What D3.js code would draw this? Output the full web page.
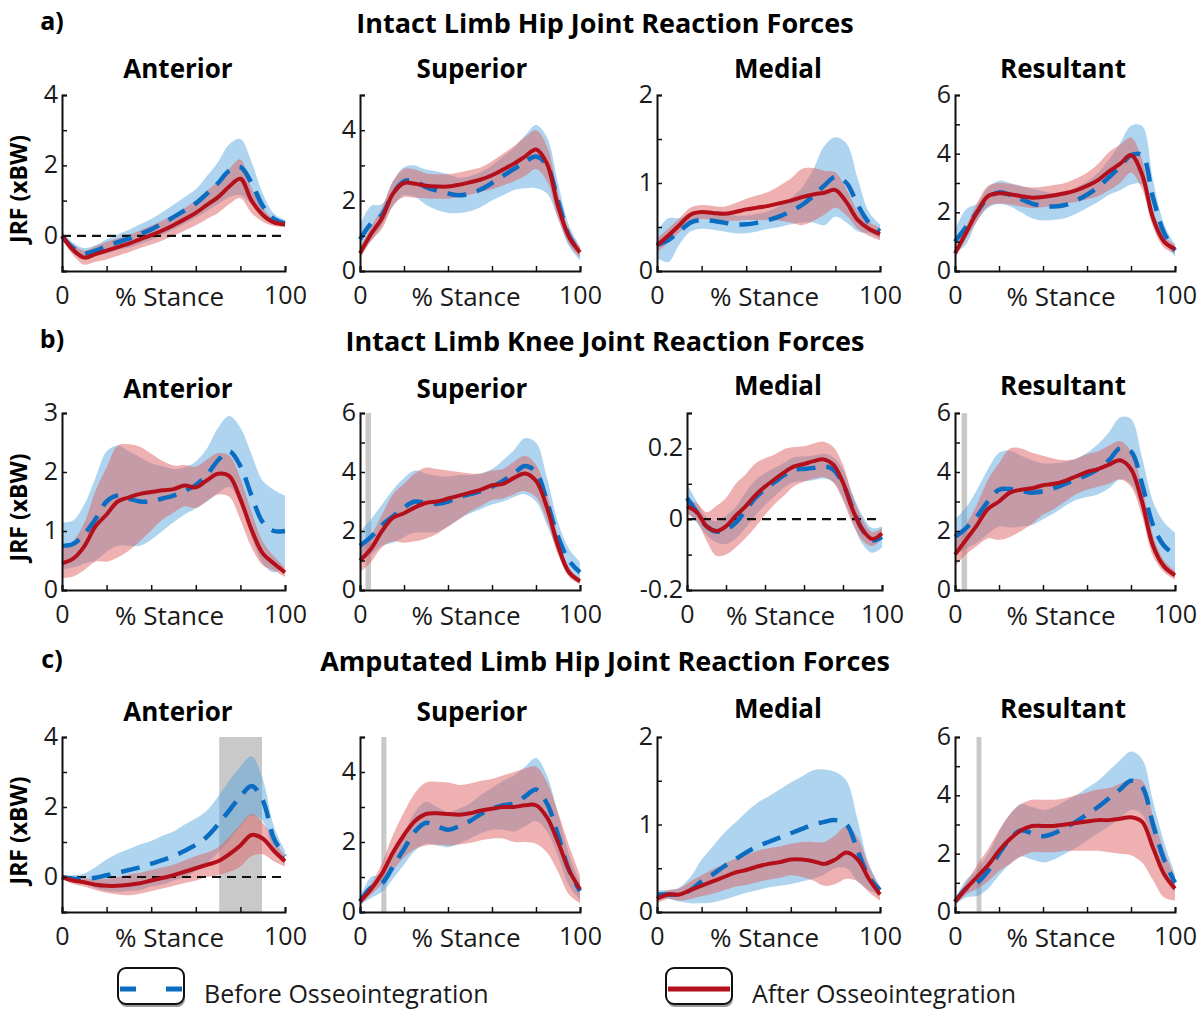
<!DOCTYPE html>
<html>
<head>
<meta charset="utf-8">
<script src="https://cdn.jsdelivr.net/npm/d3@7"></script>
<style>
  body { margin: 0; background: #fff; }
  svg { font-family: "Open Sans", sans-serif; }
</style>
</head>
<body>
<svg width="1200" height="1010"></svg>
<script>
// % stance sample points
const stance = d3.range(0, 101, 5);

// ---- a) intact limb hip ----
const hipAntBefore   = [0, -0.35, -0.5, -0.42, -0.3, -0.18, -0.08, 0.05, 0.18, 0.35, 0.53, 0.72, 0.92, 1.2, 1.5, 1.85, 1.95, 1.5, 0.85, 0.48, 0.35];
const hipAntBeforeSd = [0.1, 0.15, 0.15, 0.15, 0.2, 0.22, 0.25, 0.28, 0.3, 0.32, 0.35, 0.38, 0.4, 0.5, 0.6, 0.75, 0.8, 0.6, 0.35, 0.15, 0.1];
const hipAntAfter    = [0, -0.4, -0.62, -0.52, -0.42, -0.32, -0.22, -0.1, 0.02, 0.15, 0.3, 0.47, 0.65, 0.88, 1.1, 1.4, 1.62, 1.0, 0.6, 0.38, 0.33];
const hipAntAfterSd  = [0.1, 0.15, 0.2, 0.22, 0.25, 0.25, 0.25, 0.25, 0.27, 0.28, 0.3, 0.32, 0.35, 0.4, 0.45, 0.5, 0.55, 0.35, 0.2, 0.1, 0.08];

const hipSupBefore   = [0.9, 1.35, 1.6, 2.2, 2.55, 2.55, 2.38, 2.28, 2.2, 2.15, 2.2, 2.32, 2.5, 2.7, 2.9, 3.1, 3.25, 3.0, 2.0, 1.0, 0.5];
const hipSupBeforeSd = [0.4, 0.5, 0.3, 0.35, 0.4, 0.45, 0.5, 0.55, 0.55, 0.5, 0.5, 0.5, 0.5, 0.55, 0.6, 0.75, 0.9, 0.8, 0.5, 0.3, 0.2];
const hipSupAfter    = [0.5, 1.05, 1.5, 2.2, 2.5, 2.48, 2.42, 2.4, 2.4, 2.45, 2.52, 2.6, 2.72, 2.88, 3.05, 3.25, 3.45, 3.05, 1.85, 0.97, 0.53];
const hipSupAfterSd  = [0.15, 0.2, 0.3, 0.35, 0.4, 0.4, 0.35, 0.35, 0.35, 0.35, 0.35, 0.35, 0.4, 0.45, 0.5, 0.55, 0.55, 0.5, 0.35, 0.2, 0.15];

const hipMedBefore   = [0.3, 0.35, 0.45, 0.55, 0.58, 0.57, 0.55, 0.53, 0.53, 0.55, 0.58, 0.62, 0.68, 0.75, 0.85, 0.97, 1.07, 1.0, 0.75, 0.55, 0.45];
const hipMedBeforeSd = [0.15, 0.25, 0.15, 0.1, 0.1, 0.1, 0.1, 0.1, 0.1, 0.1, 0.1, 0.12, 0.15, 0.2, 0.3, 0.45, 0.45, 0.45, 0.3, 0.12, 0.08];
const hipMedAfter    = [0.29, 0.4, 0.52, 0.64, 0.67, 0.66, 0.65, 0.67, 0.7, 0.72, 0.74, 0.77, 0.8, 0.84, 0.87, 0.89, 0.92, 0.78, 0.58, 0.48, 0.42];
const hipMedAfterSd  = [0.08, 0.08, 0.08, 0.08, 0.08, 0.08, 0.08, 0.1, 0.12, 0.14, 0.16, 0.2, 0.25, 0.32, 0.3, 0.25, 0.2, 0.15, 0.1, 0.08, 0.07];

const hipResBefore   = [1.0, 1.5, 2.0, 2.5, 2.68, 2.6, 2.45, 2.3, 2.22, 2.2, 2.25, 2.4, 2.6, 2.85, 3.2, 3.55, 3.95, 3.95, 2.5, 1.3, 0.7];
const hipResBeforeSd = [0.4, 0.6, 0.3, 0.35, 0.4, 0.4, 0.45, 0.5, 0.5, 0.45, 0.45, 0.45, 0.45, 0.5, 0.6, 0.8, 1.0, 1.0, 0.6, 0.3, 0.2];
const hipResAfter    = [0.6, 1.3, 2.0, 2.55, 2.65, 2.62, 2.55, 2.5, 2.52, 2.58, 2.65, 2.75, 2.9, 3.1, 3.4, 3.65, 3.95, 3.3, 1.8, 1.0, 0.75];
const hipResAfterSd  = [0.15, 0.2, 0.3, 0.35, 0.35, 0.35, 0.35, 0.35, 0.35, 0.35, 0.35, 0.4, 0.45, 0.55, 0.65, 0.65, 0.6, 0.5, 0.3, 0.2, 0.15];

// ---- b) intact limb knee ----
const kneeAntBefore   = [0.75, 0.78, 0.95, 1.2, 1.5, 1.6, 1.55, 1.5, 1.5, 1.55, 1.6, 1.68, 1.78, 1.95, 2.2, 2.35, 2.1, 1.6, 1.15, 1.0, 1.0];
const kneeAntBeforeSd = [0.4, 0.4, 0.5, 0.7, 0.85, 0.85, 0.8, 0.75, 0.65, 0.55, 0.45, 0.4, 0.4, 0.45, 0.55, 0.6, 0.65, 0.7, 0.7, 0.7, 0.6];
const kneeAntAfter    = [0.45, 0.53, 0.74, 1.08, 1.28, 1.5, 1.57, 1.63, 1.66, 1.69, 1.71, 1.77, 1.74, 1.86, 1.97, 1.93, 1.54, 1.02, 0.62, 0.45, 0.3];
const kneeAntAfterSd  = [0.25, 0.3, 0.4, 0.6, 0.8, 0.95, 0.9, 0.8, 0.65, 0.5, 0.4, 0.35, 0.35, 0.35, 0.35, 0.35, 0.35, 0.3, 0.2, 0.12, 0.08];

const kneeSupBefore   = [1.5, 1.8, 2.2, 2.5, 2.8, 3.0, 2.95, 2.92, 3.0, 3.15, 3.25, 3.35, 3.5, 3.7, 3.95, 4.2, 4.0, 3.0, 1.8, 1.0, 0.6];
const kneeSupBeforeSd = [0.5, 0.6, 0.7, 0.9, 1.0, 1.05, 1.0, 0.95, 0.85, 0.75, 0.65, 0.6, 0.6, 0.7, 0.8, 0.95, 1.0, 0.8, 0.5, 0.4, 0.35];
const kneeSupAfter    = [1.0, 1.4, 2.0, 2.45, 2.6, 2.8, 2.95, 3.0, 3.1, 3.2, 3.3, 3.4, 3.55, 3.6, 3.8, 3.95, 3.7, 2.8, 1.5, 0.6, 0.3];
const kneeSupAfterSd  = [0.4, 0.45, 0.55, 0.8, 1.0, 1.15, 1.2, 1.1, 0.95, 0.8, 0.65, 0.55, 0.5, 0.5, 0.55, 0.6, 0.55, 0.45, 0.3, 0.15, 0.1];

const kneeMedBefore   = [0.06, 0.02, -0.02, -0.035, -0.03, -0.01, 0.025, 0.06, 0.085, 0.105, 0.125, 0.14, 0.142, 0.145, 0.15, 0.14, 0.1, 0.03, -0.03, -0.06, -0.05];
const kneeMedBeforeSd = [0.04, 0.03, 0.025, 0.03, 0.04, 0.045, 0.05, 0.05, 0.045, 0.04, 0.035, 0.035, 0.035, 0.035, 0.035, 0.035, 0.04, 0.04, 0.04, 0.035, 0.03];
const kneeMedAfter    = [0.036, 0.02, -0.02, -0.033, -0.02, 0.01, 0.036, 0.067, 0.092, 0.113, 0.133, 0.149, 0.156, 0.164, 0.169, 0.154, 0.103, 0.026, -0.03, -0.056, -0.04];
const kneeMedAfterSd  = [0.02, 0.025, 0.04, 0.07, 0.08, 0.09, 0.09, 0.09, 0.08, 0.07, 0.065, 0.055, 0.05, 0.05, 0.05, 0.05, 0.05, 0.04, 0.03, 0.02, 0.015];

const kneeResBefore   = [1.8, 2.1, 2.5, 3.0, 3.4, 3.42, 3.35, 3.3, 3.35, 3.45, 3.6, 3.75, 3.9, 4.1, 4.4, 4.8, 4.7, 3.6, 2.2, 1.5, 1.2];
const kneeResBeforeSd = [0.6, 0.7, 0.9, 1.1, 1.25, 1.3, 1.2, 1.1, 0.95, 0.85, 0.75, 0.7, 0.75, 0.85, 0.95, 1.05, 1.1, 0.9, 0.8, 0.8, 0.75];
const kneeResAfter    = [1.2, 1.7, 2.2, 2.75, 3.0, 3.3, 3.4, 3.45, 3.55, 3.6, 3.7, 3.85, 4.0, 4.1, 4.25, 4.4, 4.1, 3.0, 1.5, 0.8, 0.5];
const kneeResAfterSd  = [0.4, 0.5, 0.7, 1.0, 1.3, 1.5, 1.4, 1.2, 1.0, 0.85, 0.7, 0.6, 0.6, 0.6, 0.65, 0.65, 0.6, 0.5, 0.35, 0.2, 0.15];

// ---- c) amputated limb hip ----
const ampAntBefore   = [0, -0.05, -0.05, -0.02, 0.05, 0.12, 0.2, 0.28, 0.38, 0.48, 0.6, 0.75, 0.92, 1.15, 1.5, 1.9, 2.3, 2.6, 2.2, 1.1, 0.6];
const ampAntBeforeSd = [0.05, 0.1, 0.15, 0.3, 0.45, 0.55, 0.6, 0.65, 0.65, 0.7, 0.7, 0.75, 0.75, 0.75, 0.8, 0.85, 0.85, 0.85, 0.6, 0.35, 0.15];
const ampAntAfter    = [0, -0.1, -0.15, -0.22, -0.25, -0.25, -0.22, -0.18, -0.1, -0.03, 0.05, 0.15, 0.25, 0.35, 0.45, 0.65, 0.9, 1.2, 1.1, 0.75, 0.45];
const ampAntAfterSd  = [0.05, 0.1, 0.12, 0.15, 0.2, 0.25, 0.3, 0.3, 0.3, 0.3, 0.3, 0.32, 0.35, 0.35, 0.4, 0.5, 0.6, 0.6, 0.45, 0.3, 0.15];

const ampSupBefore   = [0.3, 0.7, 0.82, 1.3, 1.8, 2.3, 2.55, 2.45, 2.35, 2.45, 2.6, 2.8, 2.95, 3.05, 3.1, 3.3, 3.5, 3.1, 2.2, 1.2, 0.6];
const ampSupBeforeSd = [0.1, 0.3, 0.25, 0.35, 0.45, 0.55, 0.6, 0.55, 0.5, 0.5, 0.5, 0.55, 0.6, 0.7, 0.8, 0.85, 0.9, 0.8, 0.6, 0.45, 0.25];
const ampSupAfter    = [0.3, 0.65, 1.1, 1.7, 2.2, 2.6, 2.8, 2.82, 2.8, 2.78, 2.82, 2.9, 2.95, 3.0, 3.0, 3.05, 3.05, 2.7, 2.0, 1.2, 0.65];
const ampSupAfterSd  = [0.1, 0.15, 0.3, 0.5, 0.65, 0.8, 0.9, 0.9, 0.9, 0.85, 0.85, 0.85, 0.85, 0.9, 1.0, 1.05, 1.1, 1.0, 0.85, 0.7, 0.4];

const ampMedBefore   = [0.2, 0.2, 0.2, 0.25, 0.35, 0.43, 0.52, 0.6, 0.68, 0.75, 0.8, 0.85, 0.9, 0.95, 1.0, 1.03, 1.05, 1.0, 0.7, 0.4, 0.25];
const ampMedBeforeSd = [0.05, 0.05, 0.08, 0.15, 0.25, 0.32, 0.38, 0.42, 0.46, 0.5, 0.52, 0.55, 0.58, 0.6, 0.62, 0.6, 0.55, 0.5, 0.35, 0.15, 0.05];
const ampMedAfter    = [0.15, 0.2, 0.2, 0.25, 0.3, 0.35, 0.4, 0.45, 0.48, 0.52, 0.55, 0.57, 0.6, 0.6, 0.58, 0.55, 0.6, 0.68, 0.6, 0.38, 0.2];
const ampMedAfterSd  = [0.05, 0.05, 0.07, 0.1, 0.12, 0.14, 0.15, 0.16, 0.17, 0.18, 0.18, 0.18, 0.18, 0.2, 0.22, 0.25, 0.28, 0.3, 0.25, 0.15, 0.07];

const ampResBefore   = [0.35, 0.8, 1.0, 1.4, 2.0, 2.5, 2.8, 2.7, 2.6, 2.7, 2.9, 3.1, 3.35, 3.6, 3.9, 4.2, 4.5, 4.3, 3.0, 1.8, 1.0];
const ampResBeforeSd = [0.1, 0.3, 0.45, 0.6, 0.75, 0.85, 0.9, 0.9, 0.9, 0.9, 0.9, 0.9, 0.9, 0.9, 0.95, 1.0, 1.0, 0.95, 0.8, 0.6, 0.3];
const ampResAfter    = [0.35, 0.8, 1.2, 1.6, 2.1, 2.5, 2.8, 2.95, 2.95, 2.95, 3.0, 3.05, 3.1, 3.15, 3.15, 3.2, 3.25, 3.1, 2.2, 1.3, 0.8];
const ampResAfterSd  = [0.1, 0.2, 0.4, 0.55, 0.7, 0.85, 0.9, 0.9, 0.9, 0.9, 0.9, 0.95, 1.0, 1.05, 1.1, 1.2, 1.3, 1.4, 1.1, 0.8, 0.4];

// significance windows (% stance)
const kneeSupSig = [2.5, 5];
const kneeResSig = [3, 5.5];
const ampAntSig = [70.5, 89.7];
const ampSupSig = [9.7, 12];
const ampResSig = [9.8, 12];

// text
const rowTags = ["a)", "b)", "c)"];
const rowTitles = ["Intact Limb Hip Joint Reaction Forces", "Intact Limb Knee Joint Reaction Forces", "Amputated Limb Hip Joint Reaction Forces"];
const colTitles = ["Anterior", "Superior", "Medial", "Resultant"];
const legendLabels = ["Before Osseointegration", "After Osseointegration"];
const xTickLabels = [0, 100];

const panels = [
  {row: 0, col: 0, dom: [-1, 4], yt: [-1, 0, 1, 2, 3, 4], yl: [0, 2, 4], b: hipAntBefore, bs: hipAntBeforeSd, a: hipAntAfter, as: hipAntAfterSd, zero: true},
  {row: 0, col: 1, dom: [0, 5], yt: [0, 1, 2, 3, 4, 5], yl: [0, 2, 4], b: hipSupBefore, bs: hipSupBeforeSd, a: hipSupAfter, as: hipSupAfterSd},
  {row: 0, col: 2, dom: [0, 2], yt: [0, 0.5, 1, 1.5, 2], yl: [0, 1, 2], b: hipMedBefore, bs: hipMedBeforeSd, a: hipMedAfter, as: hipMedAfterSd},
  {row: 0, col: 3, dom: [0, 6], yt: [0, 1, 2, 3, 4, 5, 6], yl: [0, 2, 4, 6], b: hipResBefore, bs: hipResBeforeSd, a: hipResAfter, as: hipResAfterSd},
  {row: 1, col: 0, dom: [0, 3], yt: [0, 1, 2, 3], yl: [0, 1, 2, 3], b: kneeAntBefore, bs: kneeAntBeforeSd, a: kneeAntAfter, as: kneeAntAfterSd},
  {row: 1, col: 1, dom: [0, 6], yt: [0, 1, 2, 3, 4, 5, 6], yl: [0, 2, 4, 6], b: kneeSupBefore, bs: kneeSupBeforeSd, a: kneeSupAfter, as: kneeSupAfterSd, sig: kneeSupSig},
  {row: 1, col: 2, dom: [-0.2, 0.3], yt: [-0.2, -0.1, 0, 0.1, 0.2, 0.3], yl: [-0.2, 0, 0.2], b: kneeMedBefore, bs: kneeMedBeforeSd, a: kneeMedAfter, as: kneeMedAfterSd, zero: true, xr: [687, 882]},
  {row: 1, col: 3, dom: [0, 6], yt: [0, 1, 2, 3, 4, 5, 6], yl: [0, 2, 4, 6], b: kneeResBefore, bs: kneeResBeforeSd, a: kneeResAfter, as: kneeResAfterSd, sig: kneeResSig},
  {row: 2, col: 0, dom: [-1, 4], yt: [-1, 0, 1, 2, 3, 4], yl: [0, 2, 4], b: ampAntBefore, bs: ampAntBeforeSd, a: ampAntAfter, as: ampAntAfterSd, zero: true, sig: ampAntSig},
  {row: 2, col: 1, dom: [0, 5], yt: [0, 1, 2, 3, 4, 5], yl: [0, 2, 4], b: ampSupBefore, bs: ampSupBeforeSd, a: ampSupAfter, as: ampSupAfterSd, sig: ampSupSig},
  {row: 2, col: 2, dom: [0, 2], yt: [0, 0.5, 1, 1.5, 2], yl: [0, 1, 2], b: ampMedBefore, bs: ampMedBeforeSd, a: ampMedAfter, as: ampMedAfterSd},
  {row: 2, col: 3, dom: [0, 6], yt: [0, 1, 2, 3, 4, 5, 6], yl: [0, 2, 4, 6], b: ampResBefore, bs: ampResBeforeSd, a: ampResAfter, as: ampResAfterSd, sig: ampResSig}
];

// layout
const rowTop = [95, 413, 737], rowBottom = [271, 590, 912];
const colX = [[62, 285], [360, 580], [657, 880], [955, 1175]];
const colTitleX = [178, 472, 778, 1063];
const rowTitleY = [22, 340, 660];
const colTitleY = [[68, 68, 68, 68], [388, 388, 385, 385], [711, 711, 708, 708]];

const blue = "#0b6dc2", red = "#b3101c";
const blueBand = "#4d9fdc", redBand = "#de6262";

const svg = d3.select("svg");

// row headers
rowTags.forEach((t, i) => {
  svg.append("text").attr("x", 52).attr("y", rowTitleY[i] - 2).attr("text-anchor", "middle")
    .attr("dominant-baseline", "central").attr("font-weight", "bold").attr("font-size", "25px").text(t);
  svg.append("text").attr("x", 605).attr("y", rowTitleY[i]).attr("text-anchor", "middle")
    .attr("dominant-baseline", "central").attr("font-weight", "bold").attr("font-size", "27px").text(rowTitles[i]);
  svg.append("text")
    .attr("transform", `translate(18, ${(rowTop[i] + rowBottom[i]) / 2 + 6}) rotate(-90)`)
    .attr("text-anchor", "middle").attr("dominant-baseline", "central")
    .attr("font-weight", "bold").attr("font-size", "23px").text("JRF (xBW)");
});

const fmt = d => String(+d.toFixed(1));

panels.forEach(p => {
  const xr = p.xr || colX[p.col];
  const x = d3.scaleLinear().domain([0, 100]).range(xr);
  const y = d3.scaleLinear().domain(p.dom).range([rowBottom[p.row], rowTop[p.row]]);
  const g = svg.append("g");

  svg.append("text").attr("x", colTitleX[p.col]).attr("y", colTitleY[p.row][p.col])
    .attr("text-anchor", "middle").attr("dominant-baseline", "central")
    .attr("font-weight", "bold").attr("font-size", "26px").text(colTitles[p.col]);

  if (p.sig) {
    g.append("rect")
      .attr("x", x(p.sig[0])).attr("width", x(p.sig[1]) - x(p.sig[0]))
      .attr("y", y(p.dom[1])).attr("height", y(p.dom[0]) - y(p.dom[1]))
      .attr("fill", "#c9c9c9");
  }

  const band = (m, s) => d3.area().curve(d3.curveCatmullRom)
    .x((d, i) => x(stance[i])).y0((d, i) => y(m[i] - s[i])).y1((d, i) => y(m[i] + s[i]));
  const line = m => d3.line().curve(d3.curveCatmullRom)
    .x((d, i) => x(stance[i])).y((d, i) => y(m[i]));

  g.append("path").attr("d", band(p.b, p.bs)(p.b)).attr("fill", blueBand).attr("fill-opacity", 0.45);
  g.append("path").attr("d", band(p.a, p.as)(p.a)).attr("fill", redBand).attr("fill-opacity", 0.5);

  if (p.zero) {
    g.append("line").attr("x1", x(0)).attr("x2", x(100)).attr("y1", y(0)).attr("y2", y(0))
      .attr("stroke", "#111").attr("stroke-width", 2.2).attr("stroke-dasharray", "9,6");
  }

  g.append("path").attr("d", line(p.b)(p.b)).attr("fill", "none").attr("stroke", blue)
    .attr("stroke-width", 4.5).attr("stroke-dasharray", "19,11");
  g.append("path").attr("d", line(p.a)(p.a)).attr("fill", "none").attr("stroke", red)
    .attr("stroke-width", 4);

  // axes
  const xAxis = d3.axisBottom(x).tickValues(d3.range(0, 101, 20)).tickSize(-5).tickPadding(15)
    .tickFormat(d => xTickLabels.includes(d) ? d : "");
  const ax = g.append("g").attr("transform", `translate(0, ${y(p.dom[0])})`).call(xAxis);
  const yAxis = d3.axisLeft(y).tickValues(p.yt).tickSize(-5).tickPadding(4)
    .tickFormat(d => p.yl.some(v => Math.abs(v - d) < 1e-9) ? fmt(d) : "");
  const ay = g.append("g").attr("transform", `translate(${xr[0]}, 0)`).call(yAxis);
  [ax, ay].forEach(a => {
    a.select(".domain").attr("stroke", "#111").attr("stroke-width", 2);
    a.selectAll(".tick line").attr("stroke", "#111").attr("stroke-width", 1.5);
    a.selectAll("text").attr("font-size", "25px").attr("fill", "#1a1a1a").attr("font-family", "'Open Sans', sans-serif");
  });
  ay.selectAll("text").attr("dy", "0.3em");

  g.append("text").attr("x", (xr[0] + xr[1]) / 2 - 4).attr("y", y(p.dom[0]) + 25)
    .attr("text-anchor", "middle").attr("dominant-baseline", "central")
    .attr("font-size", "26px").attr("fill", "#1a1a1a").text("% Stance");
});

// legend
const legendX = [118, 666];
legendLabels.forEach((t, i) => {
  const lg = svg.append("g").attr("transform", `translate(${legendX[i]}, 968)`);
  lg.append("rect").attr("x", 1).attr("y", 3).attr("width", 66).attr("height", 36).attr("rx", 8)
    .attr("fill", "#999");
  lg.append("rect").attr("x", 0).attr("y", 0).attr("width", 66).attr("height", 36).attr("rx", 8)
    .attr("fill", "#fff").attr("stroke", "#111").attr("stroke-width", 2);
  lg.append("line").attr("x1", 2).attr("x2", 64).attr("y1", 21).attr("y2", 21)
    .attr("stroke", i === 0 ? blue : red).attr("stroke-width", 5)
    .attr("stroke-dasharray", i === 0 ? "16,30" : null);
  lg.append("text").attr("x", 86).attr("y", 25).attr("dominant-baseline", "central")
    .attr("font-size", "25px").attr("fill", "#1a1a1a").text(t);
});
</script>
</body>
</html>
